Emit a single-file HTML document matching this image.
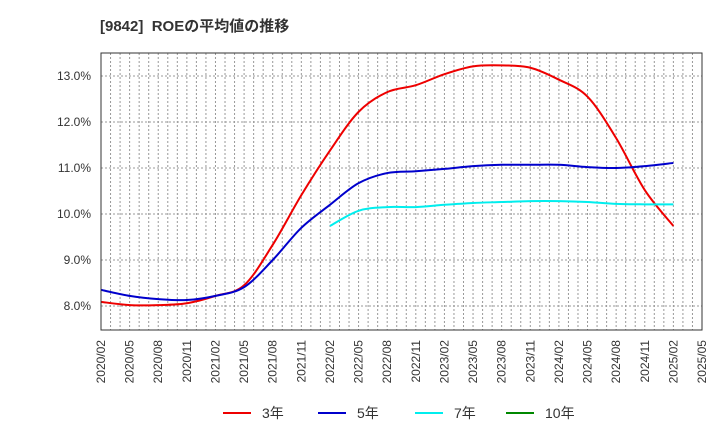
<!DOCTYPE html>
<html><head><meta charset="utf-8"><style>
body{margin:0;background:#fff;font-family:"Liberation Sans","Noto Sans CJK JP",sans-serif;}
</style></head><body>
<svg id="c" width="720" height="440" xmlns="http://www.w3.org/2000/svg" style="font-family:'Liberation Sans','Noto Sans CJK JP',sans-serif">
<text x="100" y="31" font-size="15" font-weight="bold" fill="#333">[9842]&#160; ROEの平均値の推移</text>
<g id="grid"></g><g id="series"></g><g id="axes"></g>
<g font-size="14" fill="#333">
<g><line x1="223" y1="413" x2="251" y2="413" stroke="#e00" stroke-width="2"/><text x="262" y="418">3年</text></g>
<g><line x1="318" y1="413" x2="346" y2="413" stroke="#00c" stroke-width="2"/><text x="357" y="418">5年</text></g>
<g><line x1="415" y1="413" x2="443" y2="413" stroke="#0ee" stroke-width="2"/><text x="454" y="418">7年</text></g>
<g><line x1="506" y1="413" x2="534" y2="413" stroke="#080" stroke-width="2"/><text x="545" y="418">10年</text></g>
</g>
</svg>
<script>
const xLabels=["2020/02","2020/05","2020/08","2020/11","2021/02","2021/05","2021/08","2021/11","2022/02","2022/05","2022/08","2022/11","2023/02","2023/05","2023/08","2023/11","2024/02","2024/05","2024/08","2024/11","2025/02","2025/05"];
const yTicks=[8,9,10,11,12,13];
const roe3=[8.09,8.02,8.02,8.06,8.22,8.45,9.33,10.41,11.38,12.22,12.65,12.80,13.04,13.21,13.23,13.18,12.92,12.55,11.65,10.52,9.74];
const roe5=[8.35,8.22,8.15,8.13,8.22,8.41,9.00,9.70,10.20,10.67,10.89,10.93,10.98,11.04,11.07,11.07,11.07,11.02,11.00,11.04,11.11];
const roe7=[null,null,null,null,null,null,null,null,9.74,10.07,10.15,10.15,10.20,10.24,10.26,10.28,10.28,10.26,10.22,10.21,10.21];
const roe10=[];
const L=101,R=702,T=53,B=330;
const NS="http://www.w3.org/2000/svg";
const x=i=>L+i*(R-L)/21;
const y=v=>306-(v-8)*46;
function mk(tag,attrs,parent){const e=document.createElementNS(NS,tag);for(const k in attrs)e.setAttribute(k,attrs[k]);parent.appendChild(e);return e;}
const grid=document.getElementById('grid'),axes=document.getElementById('axes'),ser=document.getElementById('series');
for(let m=1;m<63;m++){const gx=L+m*(R-L)/63;const l=mk('line',{x1:gx,x2:gx,y1:T,y2:B,stroke:'#999','stroke-dasharray':'2,2','stroke-width':1},grid);

}
yTicks.forEach(v=>{const l=mk('line',{x1:L,x2:R,y1:y(v),y2:y(v),stroke:'#999','stroke-dasharray':'2,2'},grid);


const t=mk('text',{x:L-10,y:y(v)+4,'text-anchor':'end','font-size':12,fill:'#333'},axes);t.textContent=v.toFixed(1)+'%';

});
const fr=mk('rect',{x:L,y:T,width:R-L,height:B-T,fill:'none',stroke:'#333'},axes);


xLabels.forEach((s,i)=>{const t=mk('text',{transform:`translate(${x(i)+4},${B+10}) rotate(-90)`,'text-anchor':'end','font-size':12,fill:'#333'},axes);t.textContent=s;

});
function path(data,color,name){const pts=[];data.forEach((v,i)=>{if(v!=null)pts.push([x(i),y(v)]);});if(pts.length<2)return;
let d=`M${pts[0][0]},${pts[0][1]}`;for(let i=0;i<pts.length-1;i++){const p0=pts[Math.max(0,i-1)],p1=pts[i],p2=pts[i+1],p3=pts[Math.min(pts.length-1,i+2)];
const c1=[p1[0]+(p2[0]-p0[0])/6,p1[1]+(p2[1]-p0[1])/6],c2=[p2[0]-(p3[0]-p1[0])/6,p2[1]-(p3[1]-p1[1])/6];d+=` C${c1[0]},${c1[1]} ${c2[0]},${c2[1]} ${p2[0]},${p2[1]}`;}
const p=mk('path',{d:d,fill:'none',stroke:color,'stroke-width':2},ser);

}
path(roe3,'#e00','line-3y');path(roe5,'#00c','line-5y');path(roe7,'#0ee','line-7y');path(roe10,'#080','line-10y');
</script>
</body></html>
